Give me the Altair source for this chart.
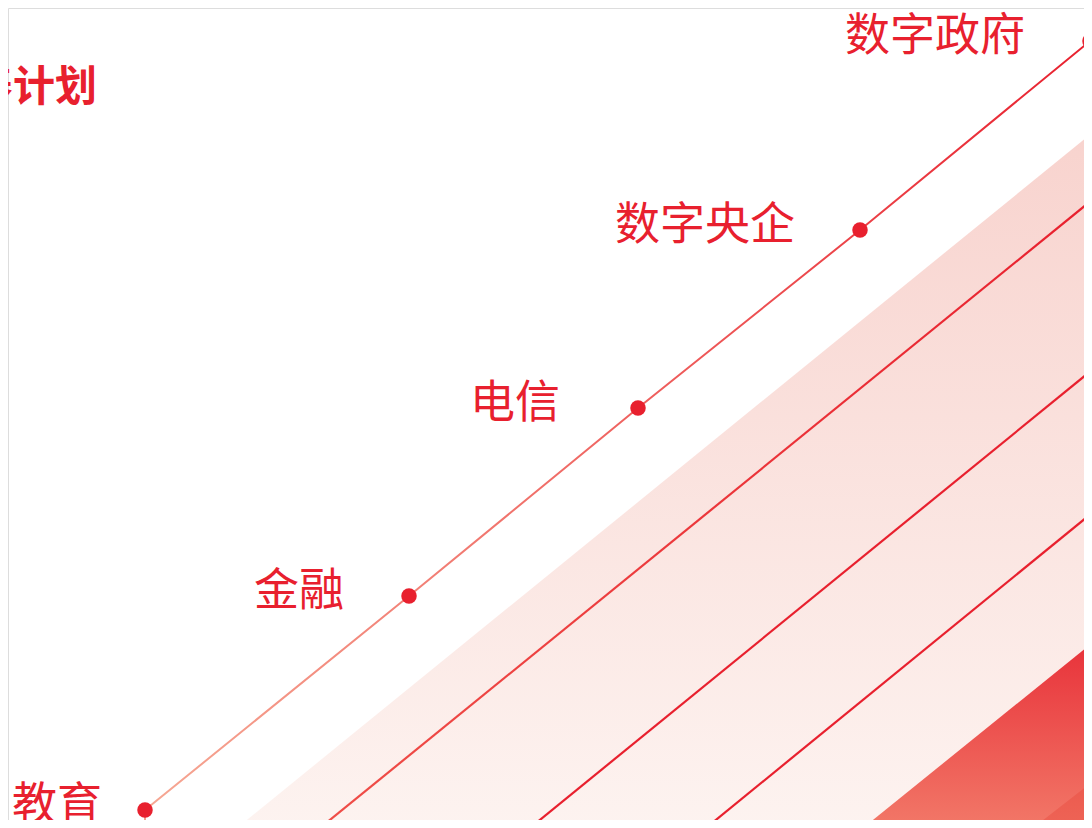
import altair as alt
import pandas as pd

# ---- data (x in px-like units from the left, y = height above the bottom edge) ----
stages = ["教育", "金融", "电信", "数字央企", "数字政府"]
stage_x = [145, 409, 638, 860, 1090]
stage_y = [18, 232, 420, 598, 787]

title_text = "数字人才培养计划"
title_x = [97]
title_y = [740]

# diagonal stripes: start x on the bottom edge, end (x, y) on the right edge
band_x = [237, 1092]
band_y = [0, 695]
dark_x = [863, 1092]
dark_y = [0, 185]
stripe_x = [1033, 1092]
stripe_y = [0, 46]
lineA_x = [320, 1092]
lineA_y = [0, 628]
lineB_x = [530, 1092]
lineB_y = [0, 458]
lineC_x = [706, 1092]
lineC_y = [0, 315]
tail_x = [145, 145]
tail_y = [0, 18]

RED = "#E8202E"

# visible window (page margin of 8px on every side)
xs = alt.Scale(domain=[8, 1084], nice=False, zero=False)
ys = alt.Scale(domain=[8, 820], nice=False, zero=False)


def X():
    return alt.X("x:Q", scale=xs, axis=None)


def Y():
    return alt.Y("y:Q", scale=ys, axis=None)


def grad(top, bottom):
    return alt.Gradient(
        gradient="linear",
        stops=[alt.GradientStop(color=bottom, offset=0), alt.GradientStop(color=top, offset=1)],
        x1=0, x2=0, y1=1, y2=0,
    )


def area(xv, yv, top, bottom):
    df = pd.DataFrame({"x": xv, "y": yv})
    return alt.Chart(df).mark_area(orient="vertical", color=grad(top, bottom), opacity=1, clip=True).encode(
        x=X(), y=Y(), y2=alt.Y2(datum=0)
    )


def line(xv, yv, color, width=2.2):
    df = pd.DataFrame({"x": xv, "y": yv, "o": list(range(len(xv)))})
    return alt.Chart(df).mark_line(color=color, strokeWidth=width, clip=True).encode(
        x=X(), y=Y(), order="o:O"
    )


band = area(band_x, band_y, "#F8D3CE", "#FDF3F0")
dark = area(dark_x, dark_y, "#E8323A", "#F27868")
stripe = area(stripe_x, stripe_y, "#EC5A4E", "#EE6456")

lineA = line(lineA_x, lineA_y, grad(RED, "#EF4E48"))
lineB = line(lineB_x, lineB_y, RED)
lineC = line(lineC_x, lineC_y, RED)
tail = line(tail_x, tail_y, "#F4A090", 2)

sdf = pd.DataFrame({"stage": stages, "x": stage_x, "y": stage_y, "o": list(range(len(stages)))})

main_line = alt.Chart(sdf).mark_line(color=grad(RED, "#F6A894"), strokeWidth=2, clip=True).encode(
    x=X(), y=Y(), order="o:O"
)
dots = alt.Chart(sdf).mark_circle(size=240, color=RED, opacity=1, clip=True).encode(x=X(), y=Y())

label_font = "Noto Sans CJK SC"
label_dx = {"教育": -43, "电信": -78}
label_layers = []
for dxv in sorted(set(label_dx.get(s, -65) for s in stages)):
    group = [s for s in stages if label_dx.get(s, -65) == dxv]
    flt = " || ".join(f"datum.stage == '{g}'" for g in group)
    label_layers.append(
        alt.Chart(sdf).transform_filter(flt).mark_text(
            align="right", baseline="middle", dx=dxv, dy=-4, fontSize=45, font=label_font, color=RED
        ).encode(x=X(), y=Y(), text="stage:N")
    )

tdf = pd.DataFrame({"t": [title_text], "x": title_x, "y": title_y})
title = alt.Chart(tdf).mark_text(
    align="right", baseline="middle", fontSize=42, font=label_font, fontWeight="bold", color=RED
).encode(x=X(), y=Y(), text="t:N")

chart = alt.layer(
    band, dark, stripe, lineA, lineB, lineC, tail, main_line, dots, *label_layers, title
).properties(
    width=1076, height=812, padding=0, autosize=alt.AutoSizeParams(type="none")
).configure_view(stroke=None).configure(background="white")

chart.save("out.html", embed_options={"renderer": "svg", "actions": False})
